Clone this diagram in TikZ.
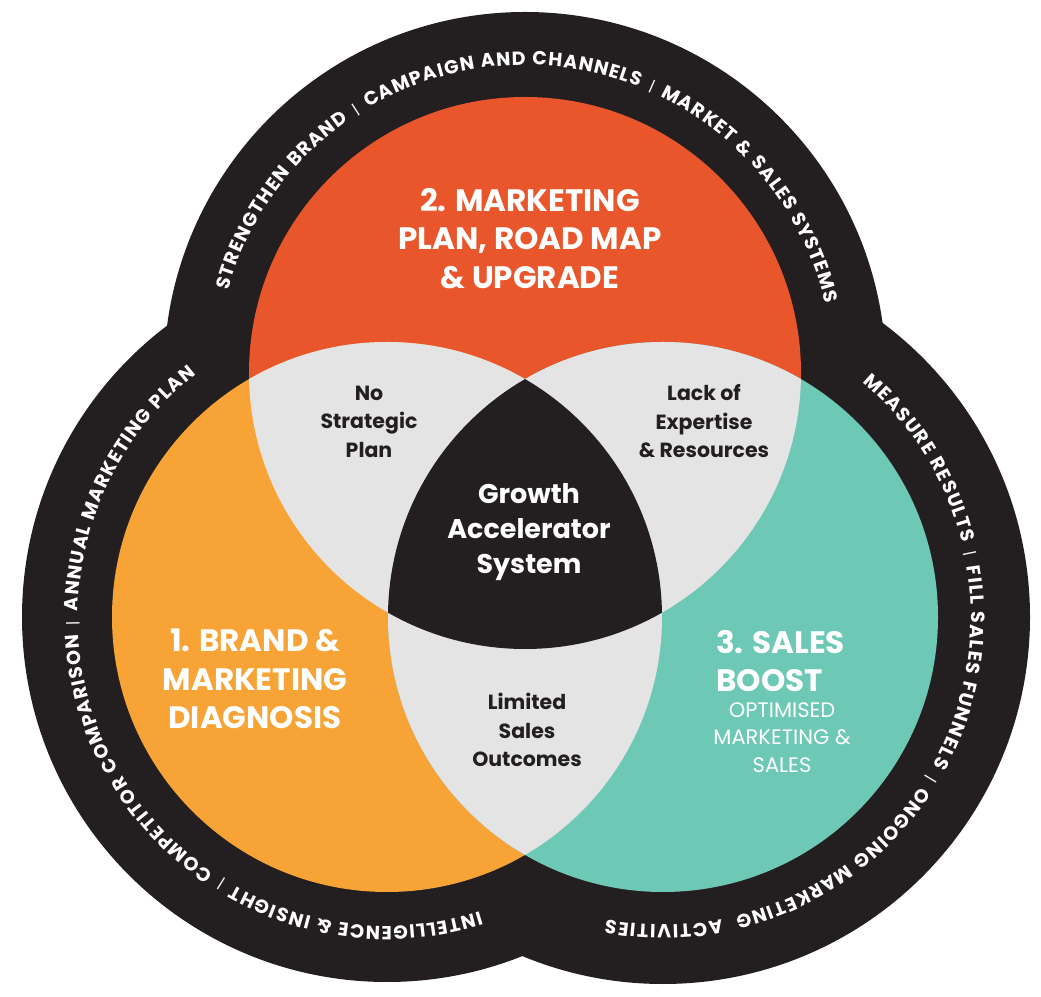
\documentclass[tikz,border=0pt]{standalone}
\usepackage{fontspec}
\setmainfont{Poppins}
\usetikzlibrary{decorations.text}
\definecolor{cblack}{HTML}{231F20}
\definecolor{cred}{HTML}{E9562B}
\definecolor{corange}{HTML}{F7A335}
\definecolor{cteal}{HTML}{6DC8B6}
\definecolor{cgray}{HTML}{E4E4E5}
\newcommand\arcB{\bfseries\fontsize{19}{22}\selectfont}
\newcommand\arcL{\mdseries\fontsize{15}{22}\selectfont}
\begin{document}
\begin{tikzpicture}[x=1pt,y=1pt,
  title/.style={text=white, font=\bfseries\fontsize{31}{38.5}\selectfont, align=center, inner sep=0pt},
  sub/.style={text=white, font=\mdseries\fontsize{21}{27.5}\selectfont, align=center, inner sep=0pt},
  graylabel/.style={text=cblack, font=\bfseries\fontsize{20.5}{28.5}\selectfont, align=center, inner sep=0pt},
  core/.style={text=white, font=\bfseries\fontsize{27}{35}\selectfont, align=center, inner sep=0pt},
  arctext/.style={decorate, decoration={text along path, text format delimiters={[}{]}, text color=white, text align=fit to path, text={#1}}}
]
\useasboundingbox (0,0) rectangle (1041,996);
\coordinate (T) at (525,623);
\coordinate (L) at (387,379);
\coordinate (R) at (663,379);
% black outer band
\fill[cblack] (T) circle[radius=361];
\fill[cblack] (L) circle[radius=365];
\fill[cblack] (R) circle[radius=367];
% coloured circles
\fill[cred] (T) circle[radius=276];
\fill[corange] (L) circle[radius=275];
\fill[cteal] (R) circle[radius=275];
% pairwise overlaps
\begin{scope}
  \clip (T) circle[radius=276];
  \fill[cgray] (L) circle[radius=275];
  \fill[cgray] (R) circle[radius=275];
\end{scope}
\begin{scope}
  \clip (L) circle[radius=275];
  \fill[cgray] (R) circle[radius=275];
\end{scope}
% centre
\begin{scope}
  \clip (T) circle[radius=276];
  \clip (L) circle[radius=275];
  \fill[cblack] (R) circle[radius=275];
\end{scope}
% arc texts
\path[arctext={[\arcB]STRENGTHEN BRAND [\arcL]{\kern3pt|\kern3pt}[\arcB] CAMPAIGN AND CHANNELS [\arcL]{\kern3pt|\kern3pt}[\arcB] MARKET {\&} SALES SYSTEMS}]
  ([shift={(164.5:308)}]T) arc[start angle=164.5, end angle=13, radius=308];
\path[arctext={[\arcB]INTELLIGENCE {\&} INSIGHT [\arcL]{\kern3pt|\kern3pt}[\arcB] COMPETITOR COMPARISON [\arcL]{\kern3pt|\kern3pt}[\arcB] ANNUAL MARKETING PLAN}]
  ([shift={(287.5:309)}]L) arc[start angle=287.5, end angle=128.2, radius=309];
\path[arctext={[\arcB]MEASURE RESULTS [\arcL]{\kern3pt|\kern3pt}[\arcB] FILL SALES FUNNELS [\arcL]{\kern3pt|\kern3pt}[\arcB] ONGOING MARKETING {\kern6pt}ACTIVITIES}]
  ([shift={(49.7:308)}]R) arc[start angle=49.7, end angle=-100.6, radius=308];
% titles
\node[title] (t2) at (530,757.5) {2. MARKETING\\PLAN, ROAD MAP\\\& UPGRADE};
\node[title] (t1) at (255,317) {1. BRAND \&\\MARKETING\\DIAGNOSIS};
\node[title, align=left, anchor=west] (t3) at (716,335) {3. SALES\\BOOST};
\node[sub] (t3s) at (782,258.5) {OPTIMISED\\MARKETING \&\\SALES};
% overlap labels
\node[graylabel] (g1) at (369,574.5) {No\\Strategic\\Plan};
\node[graylabel] (g2) at (704,574.5) {Lack of\\Expertise\\\& Resources};
\node[graylabel] (g3) at (527,266) {Limited\\Sales\\Outcomes};
\node[core] (c) at (529,464) {Growth\\Accelerator\\System};
\end{tikzpicture}
\end{document}
